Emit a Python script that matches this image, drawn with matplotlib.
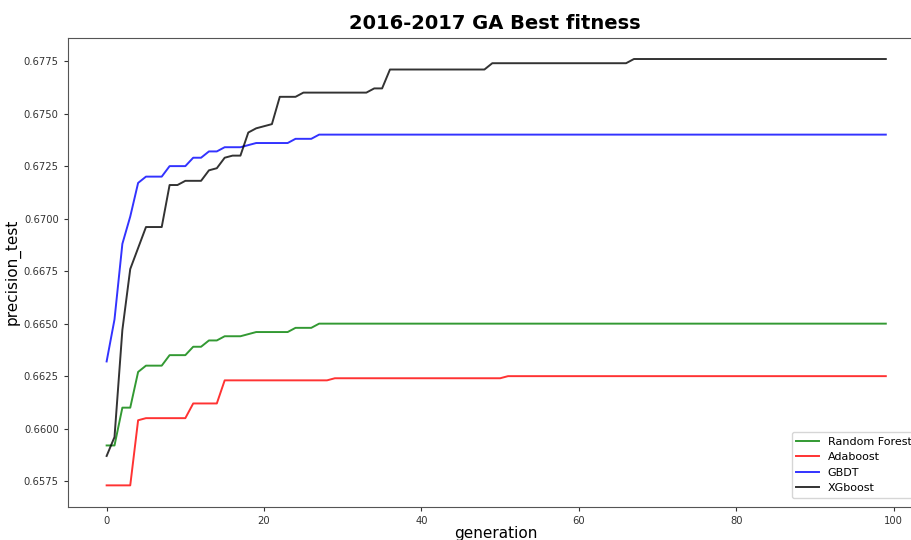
import matplotlib
matplotlib.use("Agg")
import matplotlib.pyplot as plt

# best precision_test per GA generation (0..99)
random_forest = [
    0.6592, 0.6592, 0.6610, 0.6610, 0.6627, 0.6630, 0.6630, 0.6630, 0.6635, 0.6635,
    0.6635, 0.6639, 0.6639, 0.6642, 0.6642, 0.6644, 0.6644, 0.6644, 0.6645, 0.6646,
    0.6646, 0.6646, 0.6646, 0.6646, 0.6648, 0.6648, 0.6648, 0.6650, 0.6650, 0.6650,
    0.6650, 0.6650, 0.6650, 0.6650, 0.6650, 0.6650, 0.6650, 0.6650, 0.6650, 0.6650,
    0.6650, 0.6650, 0.6650, 0.6650, 0.6650, 0.6650, 0.6650, 0.6650, 0.6650, 0.6650,
    0.6650, 0.6650, 0.6650, 0.6650, 0.6650, 0.6650, 0.6650, 0.6650, 0.6650, 0.6650,
    0.6650, 0.6650, 0.6650, 0.6650, 0.6650, 0.6650, 0.6650, 0.6650, 0.6650, 0.6650,
    0.6650, 0.6650, 0.6650, 0.6650, 0.6650, 0.6650, 0.6650, 0.6650, 0.6650, 0.6650,
    0.6650, 0.6650, 0.6650, 0.6650, 0.6650, 0.6650, 0.6650, 0.6650, 0.6650, 0.6650,
    0.6650, 0.6650, 0.6650, 0.6650, 0.6650, 0.6650, 0.6650, 0.6650, 0.6650, 0.6650,
]
adaboost = [
    0.6573, 0.6573, 0.6573, 0.6573, 0.6604, 0.6605, 0.6605, 0.6605, 0.6605, 0.6605,
    0.6605, 0.6612, 0.6612, 0.6612, 0.6612, 0.6623, 0.6623, 0.6623, 0.6623, 0.6623,
    0.6623, 0.6623, 0.6623, 0.6623, 0.6623, 0.6623, 0.6623, 0.6623, 0.6623, 0.6624,
    0.6624, 0.6624, 0.6624, 0.6624, 0.6624, 0.6624, 0.6624, 0.6624, 0.6624, 0.6624,
    0.6624, 0.6624, 0.6624, 0.6624, 0.6624, 0.6624, 0.6624, 0.6624, 0.6624, 0.6624,
    0.6624, 0.6625, 0.6625, 0.6625, 0.6625, 0.6625, 0.6625, 0.6625, 0.6625, 0.6625,
    0.6625, 0.6625, 0.6625, 0.6625, 0.6625, 0.6625, 0.6625, 0.6625, 0.6625, 0.6625,
    0.6625, 0.6625, 0.6625, 0.6625, 0.6625, 0.6625, 0.6625, 0.6625, 0.6625, 0.6625,
    0.6625, 0.6625, 0.6625, 0.6625, 0.6625, 0.6625, 0.6625, 0.6625, 0.6625, 0.6625,
    0.6625, 0.6625, 0.6625, 0.6625, 0.6625, 0.6625, 0.6625, 0.6625, 0.6625, 0.6625,
]
gbdt = [
    0.6632, 0.6652, 0.6688, 0.6701, 0.6717, 0.6720, 0.6720, 0.6720, 0.6725, 0.6725,
    0.6725, 0.6729, 0.6729, 0.6732, 0.6732, 0.6734, 0.6734, 0.6734, 0.6735, 0.6736,
    0.6736, 0.6736, 0.6736, 0.6736, 0.6738, 0.6738, 0.6738, 0.6740, 0.6740, 0.6740,
    0.6740, 0.6740, 0.6740, 0.6740, 0.6740, 0.6740, 0.6740, 0.6740, 0.6740, 0.6740,
    0.6740, 0.6740, 0.6740, 0.6740, 0.6740, 0.6740, 0.6740, 0.6740, 0.6740, 0.6740,
    0.6740, 0.6740, 0.6740, 0.6740, 0.6740, 0.6740, 0.6740, 0.6740, 0.6740, 0.6740,
    0.6740, 0.6740, 0.6740, 0.6740, 0.6740, 0.6740, 0.6740, 0.6740, 0.6740, 0.6740,
    0.6740, 0.6740, 0.6740, 0.6740, 0.6740, 0.6740, 0.6740, 0.6740, 0.6740, 0.6740,
    0.6740, 0.6740, 0.6740, 0.6740, 0.6740, 0.6740, 0.6740, 0.6740, 0.6740, 0.6740,
    0.6740, 0.6740, 0.6740, 0.6740, 0.6740, 0.6740, 0.6740, 0.6740, 0.6740, 0.6740,
]
xgboost = [
    0.6587, 0.6596, 0.6647, 0.6676, 0.6686, 0.6696, 0.6696, 0.6696, 0.6716, 0.6716,
    0.6718, 0.6718, 0.6718, 0.6723, 0.6724, 0.6729, 0.6730, 0.6730, 0.6741, 0.6743,
    0.6744, 0.6745, 0.6758, 0.6758, 0.6758, 0.6760, 0.6760, 0.6760, 0.6760, 0.6760,
    0.6760, 0.6760, 0.6760, 0.6760, 0.6762, 0.6762, 0.6771, 0.6771, 0.6771, 0.6771,
    0.6771, 0.6771, 0.6771, 0.6771, 0.6771, 0.6771, 0.6771, 0.6771, 0.6771, 0.6774,
    0.6774, 0.6774, 0.6774, 0.6774, 0.6774, 0.6774, 0.6774, 0.6774, 0.6774, 0.6774,
    0.6774, 0.6774, 0.6774, 0.6774, 0.6774, 0.6774, 0.6774, 0.6776, 0.6776, 0.6776,
    0.6776, 0.6776, 0.6776, 0.6776, 0.6776, 0.6776, 0.6776, 0.6776, 0.6776, 0.6776,
    0.6776, 0.6776, 0.6776, 0.6776, 0.6776, 0.6776, 0.6776, 0.6776, 0.6776, 0.6776,
    0.6776, 0.6776, 0.6776, 0.6776, 0.6776, 0.6776, 0.6776, 0.6776, 0.6776, 0.6776,
]
generations = list(range(len(xgboost)))

series = [("Random Forest", random_forest, "green"),
          ("Adaboost", adaboost, "red"),
          ("GBDT", gbdt, "blue"),
          ("XGboost", xgboost, "black")]

fig = plt.figure(figsize=(9.12, 5.4), dpi=100)
fig.patch.set_facecolor("white")
# the reference is cropped on the right, so the axes run past the figure edge
ax = fig.add_axes([0.0742, 0.0617, 0.9398, 0.8685])

for name, vals, col in series:
    ax.plot(generations, vals, color=col, lw=1.4, alpha=0.8, label=name)

ax.set_yticks([0.6575, 0.6600, 0.6625, 0.6650, 0.6675, 0.6700, 0.6725, 0.6750, 0.6775])
ax.yaxis.set_major_formatter(matplotlib.ticker.FormatStrFormatter("%.4f"))
ax.set_xticks([0, 20, 40, 60, 80, 100])
ax.tick_params(labelsize=7.2, colors="#333333", length=3)
for s in ax.spines.values():
    s.set_color("#555555")

ax.set_xlabel("generation", fontsize=11, labelpad=0)
ax.set_ylabel("precision_test", fontsize=11, labelpad=2)
ax.set_title("2016-2017 GA Best fitness", fontsize=14, fontweight="bold", pad=6,
             x=(495 - 67.7) / 857.1)

ax.legend(loc="lower right", fontsize=8, framealpha=0.8, edgecolor="#cccccc",
          borderaxespad=0.8)

fig.savefig("out.png", dpi=100)
